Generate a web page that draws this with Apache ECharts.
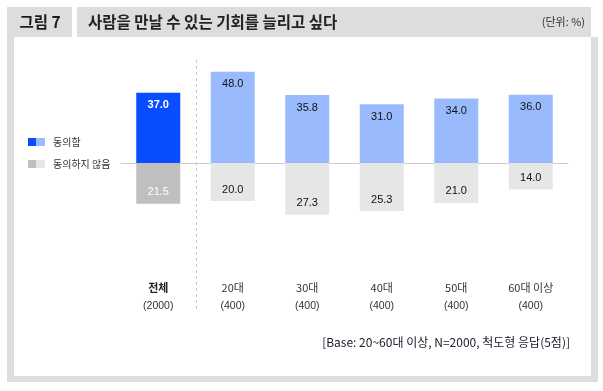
<!DOCTYPE html>
<html><head><meta charset="utf-8">
<script src="https://cdn.jsdelivr.net/npm/echarts@6/dist/echarts.min.js"></script>
<style>html,body{margin:0;padding:0;background:#fff;}#c{width:603px;height:391px;}</style>
</head><body><div id="c"></div>
<script>
const categories = ['전체', '20대', '30대', '40대', '50대', '60대 이상'];
const sampleSizes = ['(2000)', '(400)', '(400)', '(400)', '(400)', '(400)'];
const agree = [37.0, 48.0, 35.8, 31.0, 34.0, 36.0];
const disagree = [21.5, 20.0, 27.3, 25.3, 21.0, 14.0];
const legendNames = ['동의함', '동의하지 않음'];
const titleLabel = '그림 7';
const titleText = '사람을 만날 수 있는 기회를 늘리고 싶다';
const unitText = '(단위: %)';
const noteText = '[Base: 20~60대 이상, N=2000, 척도형 응답(5점)]';

const FONT = '"Noto Sans CJK KR", "Noto Sans", sans-serif';
const NUMFONT = '"Liberation Sans", Arial, sans-serif';
const GRAY = '#dcdddd';
const C_AGREE_TOTAL = '#0a4dff', C_AGREE = '#99bbfd';
const C_DIS_TOTAL = '#bfbfbf', C_DIS = '#e6e6e6';

const chart = echarts.init(document.getElementById('c'), null, {renderer: 'canvas'});
chart.setOption({
  animation: false,
  backgroundColor: '#fff',
  grid: {left: 121, width: 447, top: 58, height: 252, containLabel: false},
  xAxis: [{
    type: 'category', data: categories, position: 'bottom',
    axisLine: {onZero: true, lineStyle: {color: '#cccccc', width: 1}},
    axisTick: {show: false}, axisLabel: {show: false}, splitLine: {show: false}
  }, {
    type: 'category', data: categories, position: 'bottom', offset: -40,
    axisLine: {show: false}, axisTick: {show: false}, splitLine: {show: false},
    axisLabel: {
      margin: 8, interval: 0,
      formatter: function (v, i) {
        return (i === 0 ? '{b|' + v + '}' : '{a|' + v + '}') + '\n{n|' + sampleSizes[i] + '}';
      },
      rich: {
        a: {fontFamily: FONT, fontSize: 11, color: '#333', lineHeight: 19},
        b: {fontFamily: FONT, fontSize: 11, fontWeight: 'bold', color: '#222', lineHeight: 19},
        n: {fontFamily: NUMFONT, fontSize: 10.5, color: '#333', lineHeight: 19}
      }
    }
  }],
  yAxis: {type: 'value', min: -77.4, max: 55.3, show: false, splitLine: {show: false}},
  series: [{
    type: 'bar', stack: 's', barWidth: 44, xAxisIndex: 0,
    data: agree.map((v, i) => ({value: v, itemStyle: {color: i === 0 ? C_AGREE_TOTAL : C_AGREE},
      label: i === 0 ? {color: '#fff', fontWeight: 'bold'} : undefined})),
    label: {show: true, position: 'insideTop', distance: 7,
      fontFamily: NUMFONT, fontSize: 11,
      formatter: p => Math.abs(p.value).toFixed(1), color: '#111'}
  }, {
    type: 'bar', stack: 's', barWidth: 44, xAxisIndex: 0,
    data: disagree.map((v, i) => ({value: -v, itemStyle: {color: i === 0 ? C_DIS_TOTAL : C_DIS},
      label: i === 0 ? {color: '#fff'} : undefined})),
    label: {show: true, position: 'insideBottom', distance: 6,
      fontFamily: NUMFONT, fontSize: 11,
      formatter: p => Math.abs(p.value).toFixed(1), color: '#111'}
  }],
  graphic: [
    {type: 'rect', shape: {x: 7, y: 7, width: 65, height: 30}, style: {fill: GRAY}, silent: true},
    {type: 'rect', shape: {x: 77, y: 7, width: 514, height: 30}, style: {fill: GRAY}, silent: true},
    {type: 'rect', shape: {x: 7, y: 37, width: 7, height: 345}, style: {fill: GRAY}, silent: true},
    {type: 'rect', shape: {x: 591, y: 37, width: 7, height: 345}, style: {fill: GRAY}, silent: true},
    {type: 'rect', shape: {x: 7, y: 376, width: 591, height: 6}, style: {fill: GRAY}, silent: true},
    {type: 'text', x: 40, y: 22, style: {text: titleLabel, font: 'bold 15.5px ' + FONT, fill: '#1a1a1a', align: 'center', verticalAlign: 'middle'}},
    {type: 'text', x: 88, y: 22, style: {text: titleText, font: 'bold 15.5px ' + FONT, fill: '#222', align: 'left', verticalAlign: 'middle'}},
    {type: 'text', x: 585, y: 22, style: {text: unitText, font: '11px ' + FONT, fill: '#333', align: 'right', verticalAlign: 'middle'}},
    {type: 'rect', shape: {x: 28, y: 138, width: 8, height: 8}, style: {fill: C_AGREE_TOTAL}},
    {type: 'rect', shape: {x: 36, y: 138, width: 9, height: 8}, style: {fill: C_AGREE}},
    {type: 'text', x: 53, y: 142, style: {text: legendNames[0], font: '10px ' + FONT, fill: '#333', verticalAlign: 'middle'}},
    {type: 'rect', shape: {x: 28, y: 160, width: 8, height: 8}, style: {fill: C_DIS_TOTAL}},
    {type: 'rect', shape: {x: 36, y: 160, width: 9, height: 8}, style: {fill: C_DIS}},
    {type: 'text', x: 53, y: 164, style: {text: legendNames[1], font: '10px ' + FONT, fill: '#333', verticalAlign: 'middle'}},
    {type: 'text', x: 570, y: 342, style: {text: noteText, font: '12px ' + FONT, fill: '#1a1a2a', align: 'right', verticalAlign: 'middle'}}
  ]
});
// dashed separator between the total column and the age groups, placed via the axis scale
const p0 = chart.convertToPixel({xAxisIndex: 0}, categories[0]);
const p1 = chart.convertToPixel({xAxisIndex: 0}, categories[1]);
const sx = Math.round((p0 + p1) / 2) + 0.5;
chart.setOption({graphic: [{
  id: 'sep', type: 'line', shape: {x1: sx, y1: 60, x2: sx, y2: 310},
  style: {stroke: '#c8c8c8', lineWidth: 1, lineDash: [3, 3]}, silent: true
}]});
</script></body></html>
